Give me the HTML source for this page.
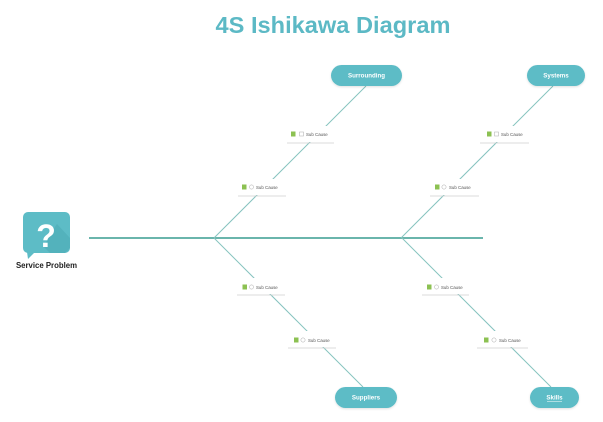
<!DOCTYPE html>
<html>
<head>
<meta charset="utf-8">
<style>
  html, body { margin:0; padding:0; background:#ffffff; }
  body { width:603px; height:422px; overflow:hidden; }
  svg { display:block; }
  text { font-family:"Liberation Sans", sans-serif; }
</style>
</head>
<body>
<svg width="603" height="422" viewBox="0 0 603 422" xmlns="http://www.w3.org/2000/svg">
  <defs>
    <filter id="sh" x="-20%" y="-30%" width="140%" height="170%">
      <feDropShadow dx="0" dy="1" stdDeviation="1" flood-color="#000" flood-opacity="0.12"/>
    </filter>
  </defs>

  <!-- Title -->
  <text x="333" y="33" text-anchor="middle" font-size="23.5" font-weight="bold" fill="#5cb9c5" textLength="235" lengthAdjust="spacingAndGlyphs">4S Ishikawa Diagram</text>

  <!-- Spine -->
  <line x1="89" y1="238" x2="483" y2="238" stroke="#6ab5ac" stroke-width="2"/>

  <!-- Branches -->
  <g stroke="#86c3bf" stroke-width="1" fill="none">
    <line x1="214" y1="238" x2="366" y2="86"/>
    <line x1="401" y1="238" x2="553" y2="86"/>
    <line x1="214" y1="238" x2="363" y2="387"/>
    <line x1="402" y1="238" x2="551" y2="387"/>
  </g>

  <!-- Label masks -->
  <g fill="#ffffff">
    <rect x="287" y="126" width="48" height="16"/>
    <rect x="238" y="179" width="48" height="16"/>
    <rect x="238" y="278" width="48" height="16"/>
    <rect x="289" y="331" width="48" height="16"/>
    <rect x="481" y="126" width="49" height="16"/>
    <rect x="430" y="179" width="49" height="16"/>
    <rect x="422" y="278" width="48" height="16"/>
    <rect x="478" y="331" width="50" height="16"/>
  </g>

  <!-- Sub cause labels -->
  <g font-size="4.4" fill="#555">
    <!-- UL1 -->
    <line x1="287" y1="143" x2="334" y2="143" stroke="#cfcfcf" stroke-width="0.8"/>
    <rect x="291" y="131.5" width="4.5" height="5" fill="#8cc152"/>
    <rect x="299.5" y="132" width="4" height="4" fill="none" stroke="#aaa" stroke-width="0.5"/>
    <text x="306" y="136">Sub Cause</text>
    <!-- UL2 -->
    <line x1="238" y1="196" x2="286" y2="196" stroke="#cfcfcf" stroke-width="0.8"/>
    <rect x="242" y="184.5" width="4.5" height="5" fill="#8cc152"/>
    <circle cx="251.5" cy="187" r="2.1" fill="none" stroke="#aaa" stroke-width="0.5"/>
    <text x="256" y="189">Sub Cause</text>
    <!-- BL1 -->
    <line x1="237" y1="295" x2="285" y2="295" stroke="#cfcfcf" stroke-width="0.8"/>
    <rect x="242.5" y="284.5" width="4.5" height="5" fill="#8cc152"/>
    <circle cx="251.5" cy="287" r="2.1" fill="none" stroke="#aaa" stroke-width="0.5"/>
    <text x="256" y="289">Sub Cause</text>
    <!-- BL2 -->
    <line x1="288" y1="348" x2="336" y2="348" stroke="#cfcfcf" stroke-width="0.8"/>
    <rect x="294" y="337.5" width="4.5" height="5" fill="#8cc152"/>
    <circle cx="303" cy="340" r="2.1" fill="none" stroke="#aaa" stroke-width="0.5"/>
    <text x="308" y="342">Sub Cause</text>
    <!-- UR1 -->
    <line x1="480" y1="143" x2="529" y2="143" stroke="#cfcfcf" stroke-width="0.8"/>
    <rect x="487" y="131.5" width="4.5" height="5" fill="#8cc152"/>
    <rect x="494.5" y="132" width="4" height="4" fill="none" stroke="#aaa" stroke-width="0.5"/>
    <text x="501" y="136">Sub Cause</text>
    <!-- UR2 -->
    <line x1="430" y1="196" x2="479" y2="196" stroke="#cfcfcf" stroke-width="0.8"/>
    <rect x="435" y="184.5" width="4.5" height="5" fill="#8cc152"/>
    <circle cx="444" cy="187" r="2.1" fill="none" stroke="#aaa" stroke-width="0.5"/>
    <text x="449" y="189">Sub Cause</text>
    <!-- BR1 -->
    <line x1="422" y1="295" x2="469" y2="295" stroke="#cfcfcf" stroke-width="0.8"/>
    <rect x="427" y="284.5" width="4.5" height="5" fill="#8cc152"/>
    <circle cx="436.5" cy="287" r="2.1" fill="none" stroke="#aaa" stroke-width="0.5"/>
    <text x="441" y="289">Sub Cause</text>
    <!-- BR2 -->
    <line x1="477" y1="348" x2="528" y2="348" stroke="#cfcfcf" stroke-width="0.8"/>
    <rect x="484" y="337.5" width="4.5" height="5" fill="#8cc152"/>
    <circle cx="494" cy="340" r="2.1" fill="none" stroke="#aaa" stroke-width="0.5"/>
    <text x="499" y="342">Sub Cause</text>
  </g>

  <!-- Pills -->
  <g fill="#5dbcc6" filter="url(#sh)">
    <rect x="331" y="65" width="71" height="21" rx="10.5"/>
    <rect x="527" y="65" width="58" height="21" rx="10.5"/>
    <rect x="335" y="387" width="62" height="21" rx="10.5"/>
    <rect x="530" y="387" width="49" height="21" rx="10.5"/>
  </g>
  <g font-size="6.2" font-weight="bold" fill="#ffffff" text-anchor="middle">
    <text x="366.5" y="77.5">Surrounding</text>
    <text x="556" y="77.5">Systems</text>
    <text x="366" y="399.5">Suppliers</text>
    <text x="554.5" y="399.5">Skills</text>
  </g>
  <line x1="547" y1="401.5" x2="562" y2="401.5" stroke="#ffffff" stroke-width="0.5"/>

  <!-- Service problem icon -->
  <g>
    <rect x="23" y="212" width="47" height="41" rx="5" fill="#5dbcc6"/>
    <polygon points="27,252 35,252 28,259" fill="#5dbcc6"/>
    <polygon points="50,234 57,224 70,238 70,248 65,253 50,253 44,247" fill="#4aa9b4" opacity="0.55"/>
    <text x="46" y="247" text-anchor="middle" font-size="32" font-weight="bold" fill="#ffffff">?</text>
  </g>
  <text x="46.5" y="268" text-anchor="middle" font-size="7.8" font-weight="bold" fill="#222">Service Problem</text>
</svg>
</body>
</html>
